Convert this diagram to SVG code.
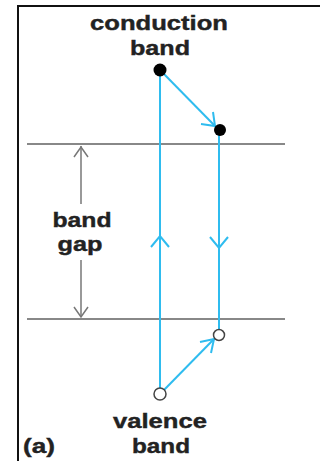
<svg xmlns="http://www.w3.org/2000/svg" width="320" height="461" viewBox="0 0 320 461">
<defs>
<style>
.t{font-family:"Liberation Sans",Arial,sans-serif;font-weight:bold;font-size:20.5px;fill:#222;stroke:#222;stroke-width:0.4;text-anchor:middle}
.lvl{stroke:#888;stroke-width:2;fill:none}
.cy{stroke:#2fbcef;stroke-width:2;fill:none}
.gp{stroke:#777;stroke-width:1.5;fill:none}
</style>
</defs>
<rect width="320" height="461" fill="#fff"/>
<path d="M18 461 V6 H320" fill="none" stroke="#111" stroke-width="2"/>
<g id="levels">
<line class="lvl" x1="27" y1="144" x2="285" y2="144"/>
<line class="lvl" x1="27" y1="319" x2="285" y2="319"/>
</g>
<g id="connectors">
<line class="cy" x1="160" y1="70" x2="160" y2="389"/>
<line class="cy" x1="219" y1="130" x2="219" y2="329"/>
<line class="cy" x1="162" y1="72" x2="215" y2="126"/>
<polyline class="cy" points="201,124 215,126 213,112"/>
<line class="cy" x1="164" y1="390" x2="214" y2="339"/>
<polyline class="cy" points="200,342 214,339 211,353"/>
<polyline class="cy" points="151,247 160,236 169,247"/>
<polyline class="cy" points="210,237 219,248 228,237"/>
<line class="gp" x1="81" y1="146" x2="81" y2="204"/>
<polyline class="gp" points="74,157 81,147 88,157"/>
<line class="gp" x1="81" y1="260" x2="81" y2="317"/>
<polyline class="gp" points="74,307 81,317 88,307"/>
</g>
<g id="electron1"><circle cx="160" cy="70" r="6.5" fill="#000"/></g>
<g id="electron2"><circle cx="220" cy="130" r="6" fill="#000"/></g>
<g id="hole1"><circle cx="219" cy="335" r="5.5" fill="#fff" stroke="#444" stroke-width="1.5"/></g>
<g id="hole2"><circle cx="160" cy="394" r="6" fill="#fff" stroke="#444" stroke-width="1.5"/></g>
<g id="label-conduction">
<text class="t" x="159" y="30" textLength="138" lengthAdjust="spacingAndGlyphs">conduction</text>
<text class="t" x="160" y="55" textLength="60" lengthAdjust="spacingAndGlyphs">band</text>
</g>
<g id="label-gap">
<text class="t" x="82" y="227" textLength="59" lengthAdjust="spacingAndGlyphs">band</text>
<text class="t" x="80" y="251" textLength="45" lengthAdjust="spacingAndGlyphs">gap</text>
</g>
<g id="label-valence">
<text class="t" x="160" y="428" textLength="94" lengthAdjust="spacingAndGlyphs">valence</text>
<text class="t" x="161" y="453" textLength="58" lengthAdjust="spacingAndGlyphs">band</text>
</g>
<g id="label-a">
<text class="t" x="39" y="453" textLength="32" lengthAdjust="spacingAndGlyphs">(a)</text>
</g>
</svg>
